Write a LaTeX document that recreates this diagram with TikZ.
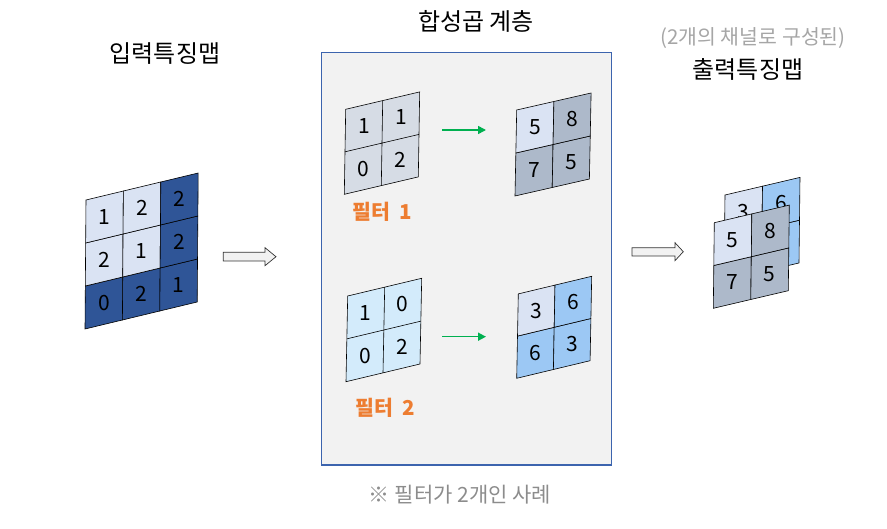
\documentclass[tikz,border=0pt]{standalone}
\usepackage{fontspec}
\setmainfont{Noto Sans CJK KR}
\usetikzlibrary{arrows.meta}
\definecolor{lightcell}{HTML}{DAE3F3}
\definecolor{darkcell}{HTML}{2F5597}
\definecolor{filtgray}{HTML}{D6DCE5}
\definecolor{outgray}{HTML}{ADB9CA}
\definecolor{filtcyan}{HTML}{D3EBFB}
\definecolor{outblue}{HTML}{9CC8F4}
\definecolor{boxfill}{HTML}{F2F2F2}
\definecolor{boxline}{HTML}{3C64AE}
\definecolor{filtorange}{HTML}{ED7D31}
\definecolor{notegray}{HTML}{8C8C8C}
\definecolor{subgray}{HTML}{A6A6A6}
\definecolor{arrowgreen}{HTML}{00B050}
\tikzset{
  cell/.style={draw=black, line width=0.6pt},
  num/.style={font=\fontsize{21}{21}\selectfont},
  heading/.style={font=\fontsize{24}{24}\selectfont},
  filtlabel/.style={font=\fontsize{20.5}{20.5}\selectfont\bfseries, text=filtorange},
  hollow/.style={draw=black!80, fill=boxfill, line width=0.7pt},
  grnarrow/.style={draw=arrowgreen, line width=1.6pt, -{Triangle[length=8pt,width=8pt]}},
}
\begin{document}
\begin{tikzpicture}[x=1pt,y=-1pt]
            \useasboundingbox (0,0) rectangle (887,529);
            
            % Drawing layer box
            \filldraw [fill=boxfill, draw=boxline, line width=1.1pt] (321.7,52.7) rectangle (611.3,465);%
            
            % Drawing headings
            \node [heading] (inTitle) at (165,54) {입력특징맵};%
            \node [heading] (convTitle) at (476,21) {합성곱 계층};%
            \node [font=\fontsize{20.5}{20.5}\selectfont, text=subgray] (outSub) at (753,38) {(2개의 채널로 구성된)};%
            \node [heading] (outTitle) at (748,69) {출력특징맵};%
            \node [font=\fontsize{21}{21}\selectfont, text=notegray] (note) at (460,495) {※ 필터가 2개인 사례};%
            
            % Drawing input map
            \begin{scope}[shift={(85,329)}, x={(37.4pt,9pt)}, y={(0.33pt,43pt)}]
            \filldraw [cell, fill=darkcell] (0,0) -- (1,0) -- (1,1) -- (0,1) -- cycle;%
            \filldraw [cell, fill=darkcell] (1,0) -- (2,0) -- (2,1) -- (1,1) -- cycle;%
            \filldraw [cell, fill=darkcell] (2,0) -- (3,0) -- (3,1) -- (2,1) -- cycle;%
            \filldraw [cell, fill=lightcell] (0,1) -- (1,1) -- (1,2) -- (0,2) -- cycle;%
            \filldraw [cell, fill=lightcell] (1,1) -- (2,1) -- (2,2) -- (1,2) -- cycle;%
            \filldraw [cell, fill=darkcell] (2,1) -- (3,1) -- (3,2) -- (2,2) -- cycle;%
            \filldraw [cell, fill=lightcell] (0,2) -- (1,2) -- (1,3) -- (0,3) -- cycle;%
            \filldraw [cell, fill=lightcell] (1,2) -- (2,2) -- (2,3) -- (1,3) -- cycle;%
            \filldraw [cell, fill=darkcell] (2,2) -- (3,2) -- (3,3) -- (2,3) -- cycle;%
            \node [num] (in00) at (0.5,0.5) {0};%
            \node [num] (in10) at (1.5,0.5) {2};%
            \node [num] (in20) at (2.5,0.5) {1};%
            \node [num] (in01) at (0.5,1.5) {2};%
            \node [num] (in11) at (1.5,1.5) {1};%
            \node [num] (in21) at (2.5,1.5) {2};%
            \node [num] (in02) at (0.5,2.5) {1};%
            \node [num] (in12) at (1.5,2.5) {2};%
            \node [num] (in22) at (2.5,2.5) {2};%
            \end{scope}
            
            % Drawing filter 1
            \begin{scope}[shift={(344.3,194.3)}, x={(37pt,8.7pt)}, y={(0.7pt,42.5pt)}]
            \filldraw [cell, fill=filtgray] (0,0) -- (2,0) -- (2,2) -- (0,2) -- cycle;%
            \draw [cell] (1,0) -- (1,2) (0,1) -- (2,1);%
            \node [num] (fa00) at (0.5,0.5) {0};%
            \node [num] (fa10) at (1.5,0.5) {2};%
            \node [num] (fa01) at (0.5,1.5) {1};%
            \node [num] (fa11) at (1.5,1.5) {1};%
            \end{scope}
            \node [filtlabel] (faLabel) at (382,212) {필터~~1};%
            
            % Drawing output 1
            \begin{scope}[shift={(515,196)}, x={(37.2pt,8.5pt)}, y={(0.85pt,43pt)}]
            \filldraw [cell, fill=outgray] (0,0) -- (1,0) -- (1,1) -- (0,1) -- cycle;%
            \filldraw [cell, fill=outgray] (1,0) -- (2,0) -- (2,1) -- (1,1) -- cycle;%
            \filldraw [cell, fill=lightcell] (0,1) -- (1,1) -- (1,2) -- (0,2) -- cycle;%
            \filldraw [cell, fill=outgray] (1,1) -- (2,1) -- (2,2) -- (1,2) -- cycle;%
            \node [num] (oa00) at (0.5,0.5) {7};%
            \node [num] (oa10) at (1.5,0.5) {5};%
            \node [num] (oa01) at (0.5,1.5) {5};%
            \node [num] (oa11) at (1.5,1.5) {8};%
            \end{scope}
            
            % Drawing filter 2
            \begin{scope}[shift={(346,381.7)}, x={(37pt,8.85pt)}, y={(0.85pt,42.85pt)}]
            \filldraw [cell, fill=filtcyan] (0,0) -- (2,0) -- (2,2) -- (0,2) -- cycle;%
            \draw [cell] (1,0) -- (1,2) (0,1) -- (2,1);%
            \node [num] (fb00) at (0.5,0.5) {0};%
            \node [num] (fb10) at (1.5,0.5) {2};%
            \node [num] (fb01) at (0.5,1.5) {1};%
            \node [num] (fb11) at (1.5,1.5) {0};%
            \end{scope}
            \node [filtlabel] (fbLabel) at (385,408) {필터~~2};%
            
            % Drawing output 2
            \begin{scope}[shift={(516.7,378.3)}, x={(36.7pt,8.8pt)}, y={(0.8pt,42.2pt)}]
            \filldraw [cell, fill=outblue] (0,0) -- (1,0) -- (1,1) -- (0,1) -- cycle;%
            \filldraw [cell, fill=outblue] (1,0) -- (2,0) -- (2,1) -- (1,1) -- cycle;%
            \filldraw [cell, fill=lightcell] (0,1) -- (1,1) -- (1,2) -- (0,2) -- cycle;%
            \filldraw [cell, fill=outblue] (1,1) -- (2,1) -- (2,2) -- (1,2) -- cycle;%
            \node [num] (ob00) at (0.5,0.5) {6};%
            \node [num] (ob10) at (1.5,0.5) {3};%
            \node [num] (ob01) at (0.5,1.5) {3};%
            \node [num] (ob11) at (1.5,1.5) {6};%
            \end{scope}
            
            % Drawing green arrows
            \coordinate (gaStart) at (442,130);%
            \coordinate (gaEnd) at (486,130);%
            \draw [grnarrow] (gaStart) -- (gaEnd);%
            \coordinate (gbStart) at (442,336.7);%
            \coordinate (gbEnd) at (486,336.7);%
            \draw [grnarrow] (gbStart) -- (gbEnd);%
            
            % Drawing stacked output, back channel
            \begin{scope}[shift={(724,280.6)}, x={(37.5pt,8.8pt)}, y={(0.5pt,42.8pt)}]
            \filldraw [cell, fill=outblue] (0,0) -- (1,0) -- (1,1) -- (0,1) -- cycle;%
            \filldraw [cell, fill=outblue] (1,0) -- (2,0) -- (2,1) -- (1,1) -- cycle;%
            \filldraw [cell, fill=lightcell] (0,1) -- (1,1) -- (1,2) -- (0,2) -- cycle;%
            \filldraw [cell, fill=outblue] (1,1) -- (2,1) -- (2,2) -- (1,2) -- cycle;%
            \node [num] (sb00) at (0.5,0.5) {6};%
            \node [num] (sb10) at (1.5,0.5) {3};%
            \node [num] (sb01) at (0.5,1.5) {3};%
            \node [num] (sb11) at (1.5,1.5) {6};%
            \end{scope}
            
            % Drawing stacked output, front channel
            \begin{scope}[shift={(713.3,308.3)}, x={(37.5pt,8.8pt)}, y={(0.5pt,42.8pt)}]
            \filldraw [cell, fill=outgray] (0,0) -- (1,0) -- (1,1) -- (0,1) -- cycle;%
            \filldraw [cell, fill=outgray] (1,0) -- (2,0) -- (2,1) -- (1,1) -- cycle;%
            \filldraw [cell, fill=lightcell] (0,1) -- (1,1) -- (1,2) -- (0,2) -- cycle;%
            \filldraw [cell, fill=outgray] (1,1) -- (2,1) -- (2,2) -- (1,2) -- cycle;%
            \node [num] (sa00) at (0.5,0.5) {7};%
            \node [num] (sa10) at (1.5,0.5) {5};%
            \node [num] (sa01) at (0.5,1.5) {5};%
            \node [num] (sa11) at (1.5,1.5) {8};%
            \end{scope}
            
            % Drawing hollow arrows
            \filldraw [hollow] (223.3,252.3) -- (265,252.3) -- (265,247.7) -- (276,256.7) -- (265,265.7) -- (265,261) -- (223.3,261) -- cycle;%
            \filldraw [hollow] (632,247.7) -- (675,247.7) -- (675,242.7) -- (683.3,251.7) -- (675,260.7) -- (675,256) -- (632,256) -- cycle;%
\end{tikzpicture}
\end{document}
